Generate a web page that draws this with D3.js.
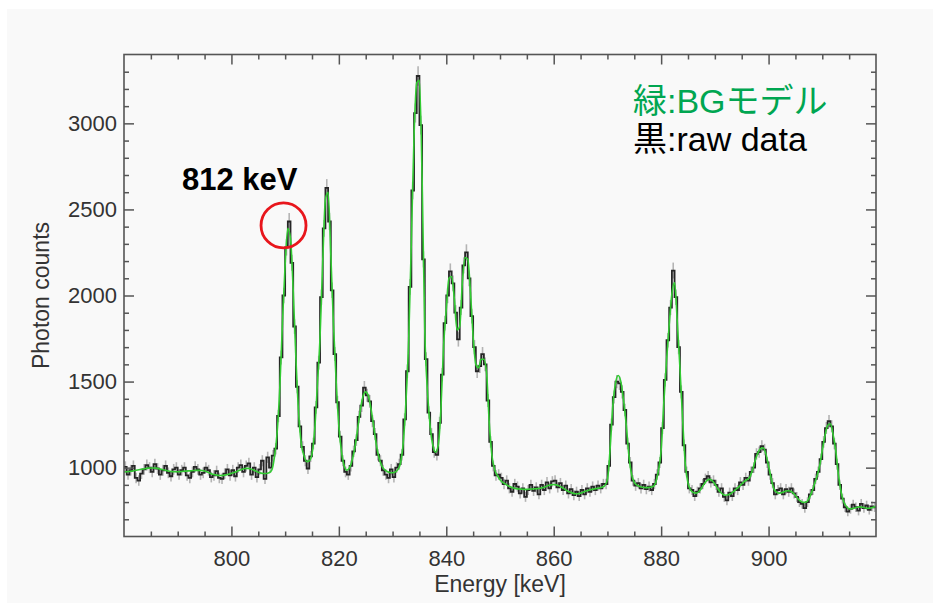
<!DOCTYPE html>
<html>
<head>
<meta charset="utf-8">
<script src="https://cdn.jsdelivr.net/npm/d3@7"></script>
<style>
  html, body { margin: 0; padding: 0; background: #fff; }
  svg { display: block; }
</style>
</head>
<body>
<svg id="chart" width="933" height="603"></svg>
<script>
// spectrum bins: 0.5 keV wide, from 780 to 920 keV
const binStart = 780;
const binWidth = 0.5;

// raw counts per bin (black histogram), 20 bins per 10 keV
const rawCounts = [
  1005, 960, 985, 1010, 940, 925, 965, 990, 1015, 1000, 975, 1020, 995, 960, 985, 1010, 970, 950, 990, 1000,
  960, 985, 1000, 955, 940, 975, 1005, 990, 960, 970, 1000, 985, 945, 955, 980, 940, 935, 965, 990, 955,
  985, 950, 1000, 1015, 975, 1010, 1025, 960, 1000, 945, 990, 1040, 935, 1060, 1000, 1070, 1110, 1300, 1640, 2000,
  2280, 2430, 2190, 1820, 1470, 1240, 1120, 1040, 995, 1065, 1140, 1350, 1610, 1990, 2390, 2625, 2430, 2030, 1660, 1380,
  1180, 1040, 975, 960, 1010, 1095, 1160, 1295, 1360, 1465, 1420, 1385, 1270, 1195, 1075, 1040, 985, 960, 940, 990,
  945, 1000, 1020, 1075, 1280, 1560, 2050, 2610, 3060, 3275, 2990, 2210, 1630, 1320, 1195, 1090, 1075, 1260, 1540, 1840,
  2000, 2140, 2070, 1900, 1745, 1930, 2175, 2250, 2100, 1880, 1700, 1560, 1590, 1660, 1600, 1390, 1150, 1010, 955, 960,
  940, 905, 925, 880, 860, 905, 890, 850, 880, 830, 870, 900, 865, 885, 845, 900, 870, 915, 880, 920,
  925, 885, 910, 870, 895, 850, 875, 840, 860, 835, 870, 845, 880, 860, 890, 870, 895, 880, 905, 905,
  1010, 1250, 1410, 1500, 1490, 1440, 1335, 1140, 1030, 925, 895, 910, 880, 900, 875, 890, 870, 905, 960, 1030,
  1230, 1510, 1740, 1930, 2145, 1990, 1700, 1440, 1130, 975, 880, 870, 835, 860, 880, 905, 935, 950, 915, 925,
  900, 860, 880, 830, 810, 855, 835, 880, 870, 915, 900, 940, 925, 975, 1000, 1080, 1090, 1125, 1105, 1030,
  960, 910, 845, 870, 880, 845, 875, 860, 880, 850, 830, 800, 790, 765, 800, 845, 870, 935, 975, 1050,
  1150, 1230, 1270, 1240, 1140, 1020, 900, 820, 770, 745, 760, 785, 770, 750, 790, 765, 780, 755, 775, 770
];

// background model (green) at every 0.5 keV from 780 to 920
const bgModel = [
  975, 976, 978, 980, 983, 986, 989, 992, 995, 997, 998, 998, 997, 994, 990, 986, 982, 979, 977, 976,
  976, 977, 979, 980, 981, 982, 983, 984, 984, 983, 980, 975, 968, 962, 958, 955, 954, 955, 958, 962,
  967, 972, 978, 985, 991, 995, 996, 994, 988, 980, 973, 968, 966, 966, 970, 985, 1060, 1200, 1460, 1840,
  2180, 2390, 2330, 2030, 1640, 1320, 1140, 1070, 1035, 1040, 1080, 1220, 1480, 1760, 2200, 2560, 2600, 2240, 1830, 1500,
  1240, 1090, 1010, 985, 1000, 1045, 1120, 1225, 1335, 1415, 1440, 1415, 1340, 1235, 1130, 1055, 1010, 988, 978, 972,
  970, 975, 990, 1030, 1150, 1390, 1740, 2320, 2930, 3235, 3250, 2680, 1790, 1440, 1240, 1130, 1090, 1130, 1340, 1710,
  1920, 2100, 2110, 1980, 1800, 1820, 2080, 2220, 2210, 2020, 1760, 1600, 1580, 1630, 1630, 1550, 1260, 1070, 990, 955,
  930, 915, 905, 895, 888, 882, 878, 876, 875, 874, 874, 875, 876, 877, 878, 880, 884, 890, 896, 900,
  902, 900, 894, 886, 876, 866, 858, 852, 848, 848, 852, 858, 864, 869, 873, 876, 879, 882, 886, 895,
  930, 1110, 1360, 1490, 1535, 1500, 1390, 1250, 1070, 960, 915, 898, 890, 886, 884, 884, 886, 890, 915, 985,
  1100, 1380, 1620, 1830, 2010, 2075, 1850, 1580, 1280, 1020, 910, 870, 855, 852, 860, 880, 905, 925, 932, 925,
  905, 880, 858, 845, 840, 842, 850, 862, 876, 890, 905, 920, 930, 945, 985, 1040, 1085, 1110, 1115, 1080,
  1010, 935, 875, 858, 852, 855, 862, 866, 864, 855, 838, 818, 805, 798, 800, 820, 855, 900, 950, 1010,
  1100, 1185, 1245, 1255, 1195, 1100, 960, 860, 800, 775, 760, 762, 766, 770, 772, 770, 766, 764, 766, 770,
  775
];

// axis ticks
const energyTicks = [800, 820, 840, 860, 880, 900];
const energyMinor = [785, 790, 795, 805, 810, 815, 825, 830, 835, 845, 850, 855, 865, 870, 875, 885, 890, 895, 905, 910, 915];
const countTicks = [1000, 1500, 2000, 2500, 3000];
const countMinor = [700, 800, 900, 1100, 1200, 1300, 1400, 1600, 1700, 1800, 1900, 2100, 2200, 2300, 2400,
                    2600, 2700, 2800, 2900, 3100, 3200, 3300];

// annotation: 812 keV line
const peakNote = { label: "812 keV", energy: 809.7, counts: 2407, textEnergy: 790.8, textCounts: 2610 };

const svg = d3.select("#chart");
const W = 933, H = 603;
const plotL = 124, plotR = 876, plotT = 54.5, plotB = 536.5;

svg.append("rect")
  .attr("x", 7).attr("y", 9)
  .attr("width", W - 7).attr("height", H - 9)
  .attr("fill", "#f9f9f9");

const x = d3.scaleLinear().domain([780, 920]).range([plotL, plotR]);
const y = d3.scaleLinear().domain([600, 3400]).range([plotB, plotT]);

const bins = rawCounts.map((c, i) => ({ e0: binStart + i * binWidth, c: c }));
const modelPts = bgModel.map((v, i) => ({ e: binStart + i * binWidth, v: v }));

const plot = svg.append("g");

// error bars (poisson)
plot.append("g")
  .selectAll("line")
  .data(bins)
  .join("line")
    .attr("x1", d => x(d.e0 + binWidth / 2))
    .attr("x2", d => x(d.e0 + binWidth / 2))
    .attr("y1", d => y(d.c - Math.sqrt(d.c)))
    .attr("y2", d => y(d.c + Math.sqrt(d.c)))
    .attr("stroke", "#b4b4b4")
    .attr("stroke-width", 1.6);

// raw histogram as steps
const stepPts = bins.concat([{ e0: 920, c: rawCounts[rawCounts.length - 1] }]);
plot.append("path")
  .datum(stepPts)
  .attr("fill", "none")
  .attr("stroke", "#262626")
  .attr("stroke-width", 1.8)
  .attr("d", d3.line().x(d => x(d.e0)).y(d => y(d.c)).curve(d3.curveStepAfter));

// green background model
plot.append("path")
  .datum(modelPts)
  .attr("fill", "none")
  .attr("stroke", "#33cc33")
  .attr("stroke-width", 1.6)
  .attr("d", d3.line().x(d => x(d.e)).y(d => y(d.v)).curve(d3.curveMonotoneX));

// axes, ticks pointing inwards on all four sides
const axisColor = "#555";
function styleAxis(g, labels) {
  g.select(".domain").remove();
  g.selectAll(".tick line").attr("stroke", axisColor).attr("stroke-width", 1.5);
  g.selectAll(".tick text")
    .attr("fill", "#333")
    .style("font-family", "'Liberation Sans', Arial, Helvetica, sans-serif")
    .style("font-size", "22px");
  if (!labels) g.selectAll(".tick text").remove();
}

svg.append("g").attr("transform", `translate(0,${plotB})`)
  .call(d3.axisBottom(x).tickValues(energyTicks).tickSize(-10).tickPadding(14).tickFormat(d3.format("d")))
  .call(g => styleAxis(g, true));
svg.append("g").attr("transform", `translate(0,${plotB})`)
  .call(d3.axisBottom(x).tickValues(energyMinor).tickSize(-5).tickFormat(""))
  .call(g => styleAxis(g, false));
svg.append("g").attr("transform", `translate(0,${plotT})`)
  .call(d3.axisTop(x).tickValues(energyTicks).tickSize(-10).tickFormat(""))
  .call(g => styleAxis(g, false));
svg.append("g").attr("transform", `translate(0,${plotT})`)
  .call(d3.axisTop(x).tickValues(energyMinor).tickSize(-5).tickFormat(""))
  .call(g => styleAxis(g, false));

svg.append("g").attr("transform", `translate(${plotL},0)`)
  .call(d3.axisLeft(y).tickValues(countTicks).tickSize(-10).tickPadding(7).tickFormat(d3.format("d")))
  .call(g => styleAxis(g, true));
svg.append("g").attr("transform", `translate(${plotL},0)`)
  .call(d3.axisLeft(y).tickValues(countMinor).tickSize(-5).tickFormat(""))
  .call(g => styleAxis(g, false));
svg.append("g").attr("transform", `translate(${plotR},0)`)
  .call(d3.axisRight(y).tickValues(countTicks).tickSize(-10).tickFormat(""))
  .call(g => styleAxis(g, false));
svg.append("g").attr("transform", `translate(${plotR},0)`)
  .call(d3.axisRight(y).tickValues(countMinor).tickSize(-5).tickFormat(""))
  .call(g => styleAxis(g, false));

svg.append("rect")
  .attr("x", plotL).attr("y", plotT)
  .attr("width", plotR - plotL).attr("height", plotB - plotT)
  .attr("fill", "none")
  .attr("stroke", axisColor)
  .attr("stroke-width", 1.6);

// axis titles
const labelFont = "'Liberation Sans', Arial, Helvetica, sans-serif";
svg.append("text")
  .attr("x", (plotL + plotR) / 2).attr("y", 592)
  .attr("text-anchor", "middle")
  .attr("fill", "#333")
  .style("font-family", labelFont).style("font-size", "23px")
  .text("Energy [keV]");
svg.append("text")
  .attr("transform", `translate(49,${(plotT + plotB) / 2}) rotate(-90)`)
  .attr("text-anchor", "middle")
  .attr("fill", "#333")
  .style("font-family", labelFont).style("font-size", "23px")
  .text("Photon counts");

// legend
const legendFont = "'Liberation Sans', Arial, 'Noto Sans CJK JP', sans-serif";
svg.append("text")
  .attr("x", 633).attr("y", 113)
  .attr("fill", "#00a651")
  .style("font-family", legendFont).style("font-size", "34px")
  .text("緑:BGモデル");
svg.append("text")
  .attr("x", 633).attr("y", 151)
  .attr("fill", "#000")
  .style("font-family", legendFont).style("font-size", "34px")
  .text("黒:raw data");

// 812 keV annotation
svg.append("text")
  .attr("x", x(peakNote.textEnergy)).attr("y", y(peakNote.textCounts))
  .attr("fill", "#000")
  .style("font-family", labelFont).style("font-size", "31px").style("font-weight", "bold")
  .text(peakNote.label);
svg.append("circle")
  .attr("cx", x(peakNote.energy)).attr("cy", y(peakNote.counts))
  .attr("r", 22.5)
  .attr("fill", "none")
  .attr("stroke", "#e8161c")
  .attr("stroke-width", 2.8);
</script>
</body>
</html>
